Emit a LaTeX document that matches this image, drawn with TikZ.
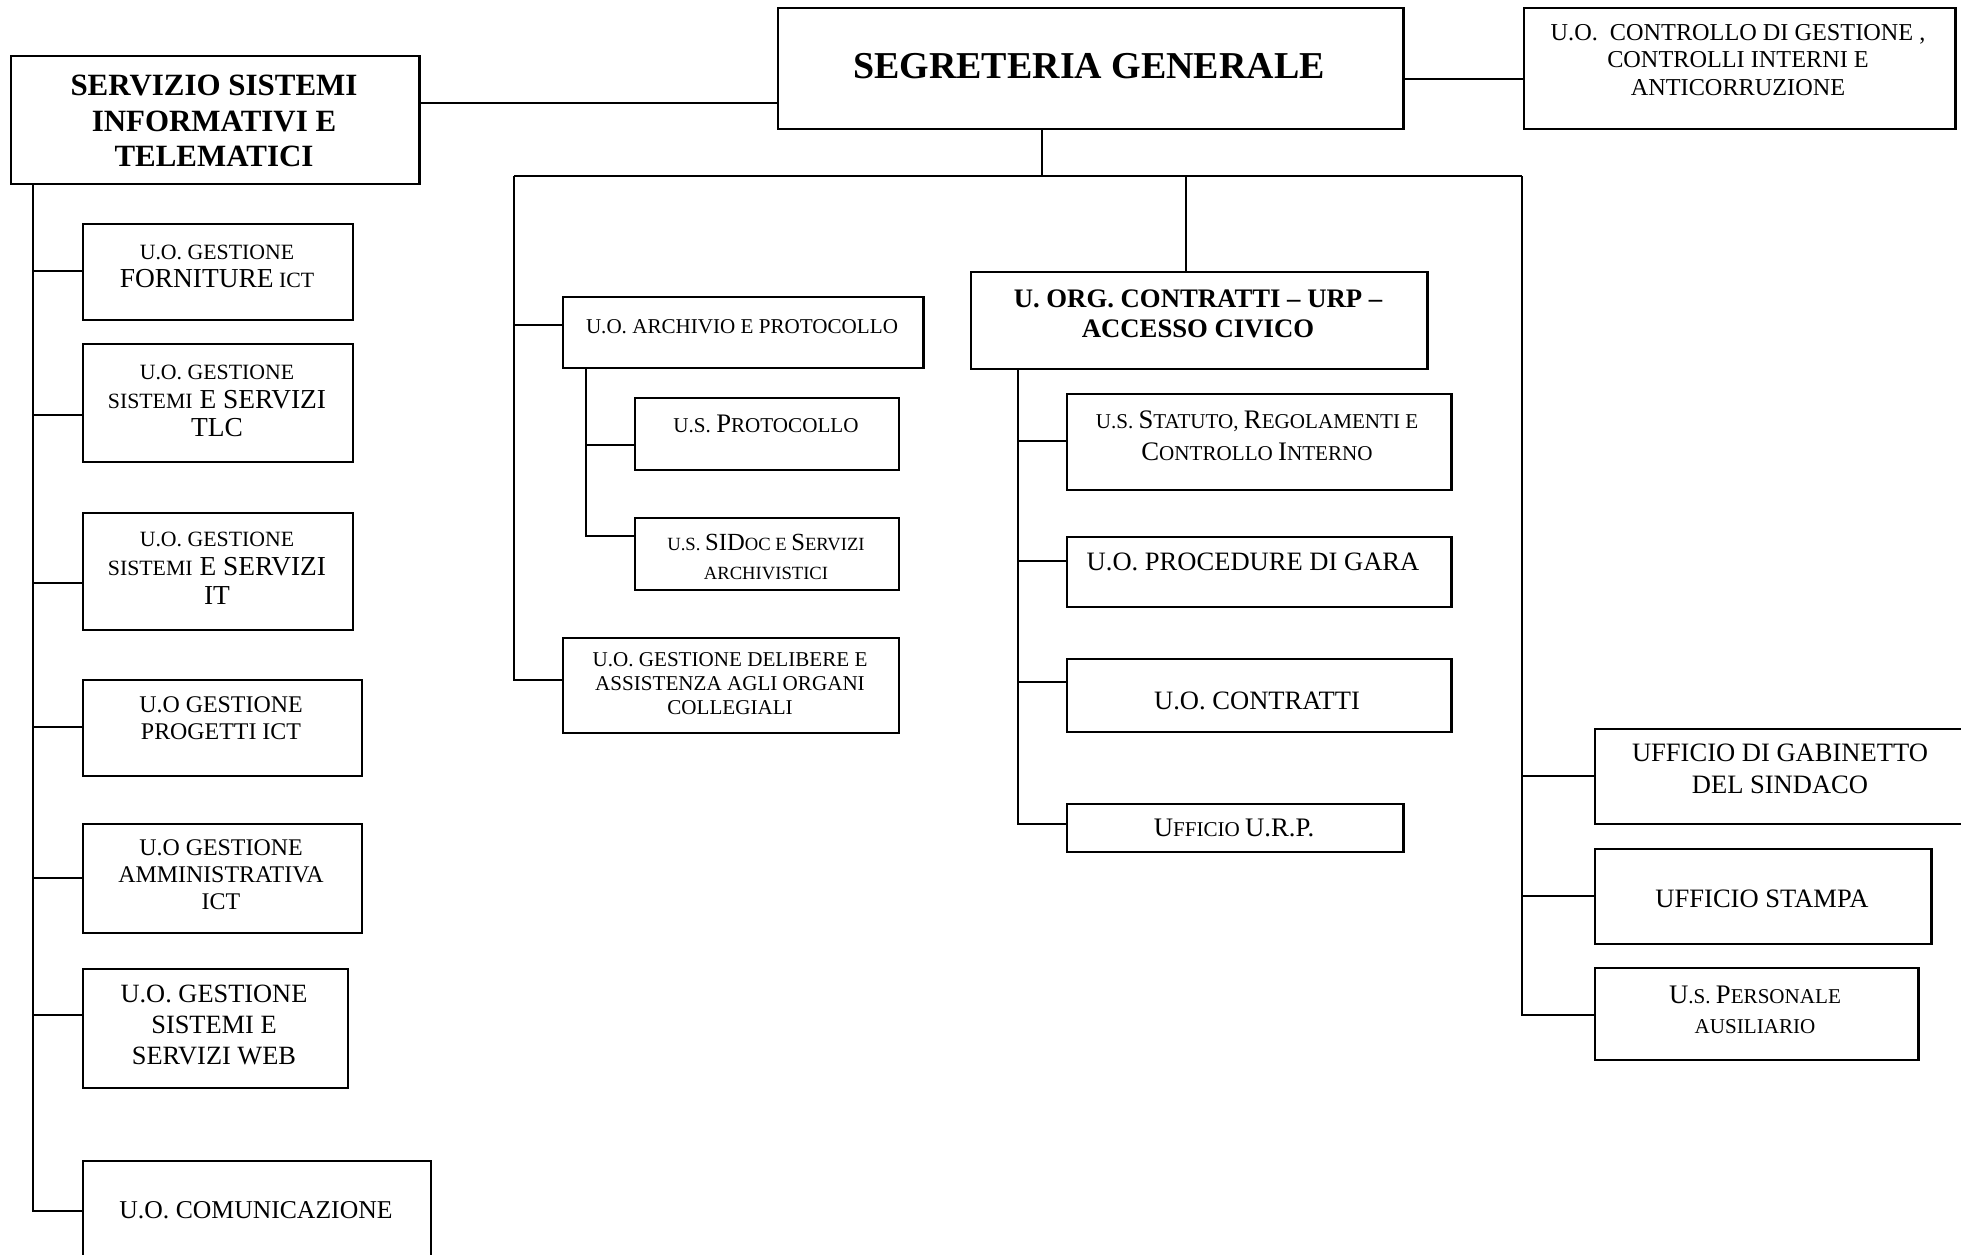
\documentclass[tikz,border=0pt]{standalone}
\usepackage{fontspec}
\setmainfont{Liberation Serif}
\newcommand\myfs[2]{\fontsize{#1pt}{#2pt}\selectfont}
\begin{document}
\begin{tikzpicture}[x=0.01cm,y=-0.01cm,
  box/.style={draw, line width=0.65pt, inner sep=0pt, anchor=north west},
  ln/.style={line width=0.65pt},
  lbl/.style={align=center, inner sep=0pt}]
\useasboundingbox (0,0) rectangle (1961,1254);
\fill[white] (0,0) rectangle (1961,1254);
\clip (0,0) rectangle (1961,1254);

% ---------- boxes ----------
\node[box, minimum width=4.08cm, minimum height=1.28cm] (ssi) at (10,55) {};
\node[box, minimum width=6.25cm, minimum height=1.21cm] (sg) at (777,7) {};
\node[box, minimum width=4.31cm, minimum height=1.21cm] (cdg) at (1523,7) {};

\node[box, minimum width=2.70cm, minimum height=0.96cm] (forn) at (82,223) {};
\node[box, minimum width=2.70cm, minimum height=1.18cm] (tlc) at (82,343) {};
\node[box, minimum width=2.70cm, minimum height=1.17cm] (it) at (82,512) {};
\node[box, minimum width=2.79cm, minimum height=0.96cm] (prog) at (82,679) {};
\node[box, minimum width=2.79cm, minimum height=1.09cm] (amm) at (82,823) {};
\node[box, minimum width=2.65cm, minimum height=1.19cm] (web) at (82,968) {};
\node[box, minimum width=3.48cm, minimum height=1.00cm] (com) at (82,1160) {};

\node[box, minimum width=3.60cm, minimum height=0.71cm] (arch) at (562,296) {};
\node[box, minimum width=2.64cm, minimum height=0.72cm] (prot) at (634,397) {};
\node[box, minimum width=2.64cm, minimum height=0.72cm] (sidoc) at (634,517) {};
\node[box, minimum width=3.36cm, minimum height=0.95cm] (delib) at (562,637) {};

\node[box, minimum width=4.56cm, minimum height=0.97cm] (org) at (970,271) {};
\node[box, minimum width=3.84cm, minimum height=0.96cm] (stat) at (1066,393) {};
\node[box, minimum width=3.84cm, minimum height=0.70cm] (proc) at (1066,536) {};
\node[box, minimum width=3.84cm, minimum height=0.73cm] (contr) at (1066,658) {};
\node[box, minimum width=3.36cm, minimum height=0.48cm] (urp) at (1066,803) {};

\node[box, minimum width=4.00cm, minimum height=0.95cm] (gab) at (1594,728) {};
\node[box, minimum width=3.36cm, minimum height=0.95cm] (stampa) at (1594,848) {};
\node[box, minimum width=3.23cm, minimum height=0.92cm] (pers) at (1594,967) {};

% ---------- texts ----------
\node[lbl, font=\bfseries\myfs{8.8}{10.2}] (ssi-t) at (214,121) {SERVIZIO SISTEMI\\INFORMATIVI E\\TELEMATICI};
\node[lbl, font=\bfseries\myfs{10.8}{12}] (sg-t) at (1089,66) {SEGRETERIA GENERALE};
\node[lbl, font=\myfs{6.9}{7.8}] (cdg-t) at (1738,60) {U.O.\ \ CONTROLLO DI GESTIONE ,\\CONTROLLI INTERNI E\\ANTICORRUZIONE};

\node[lbl, font=\myfs{6.2}{8}] (forn-t) at (217,266) {U.O. GESTIONE\\{\myfs{7.8}{8}FORNITURE} ICT};
\node[lbl, font=\myfs{6.2}{8.2}] (tlc-t) at (217,401) {U.O. GESTIONE\\SISTEMI{\myfs{7.8}{8.2} E SERVIZI}\\{\myfs{7.8}{8.2}TLC}};
\node[lbl, font=\myfs{6.2}{8.2}] (it-t) at (217,568) {U.O. GESTIONE\\SISTEMI{\myfs{7.8}{8.2} E SERVIZI}\\{\myfs{7.8}{8.2}IT}};
\node[lbl, font=\myfs{6.8}{7.8}] (prog-t) at (221,718) {U.O GESTIONE\\PROGETTI ICT};
\node[lbl, font=\myfs{6.8}{7.7}] (amm-t) at (221,875) {U.O GESTIONE\\AMMINISTRATIVA\\ICT};
\node[lbl, font=\myfs{7.5}{8.9}] (web-t) at (214,1025) {U.O. GESTIONE\\SISTEMI E\\SERVIZI WEB};
\node[lbl, font=\myfs{7.3}{8}] (com-t) at (256,1210) {U.O. COMUNICAZIONE};

\node[lbl, font=\myfs{6.0}{7}] (arch-t) at (742,327) {U.O. ARCHIVIO E PROTOCOLLO};
\node[lbl, font=\myfs{6.0}{8}] (prot-t) at (766,424) {U.S. {\myfs{7.6}{8}P}ROTOCOLLO};
\node[lbl, font=\myfs{5.3}{8}] (sidoc-t) at (766,557) {U.S. {\myfs{7}{8}SID}OC E {\myfs{7}{8}S}ERVIZI\\ARCHIVISTICI};
\node[lbl, font=\myfs{6.0}{6.8}] (delib-t) at (730,684) {U.O. GESTIONE DELIBERE E\\ASSISTENZA AGLI ORGANI\\COLLEGIALI};

\node[lbl, font=\bfseries\myfs{7.6}{8.6}] (org-t) at (1198,314) {U. ORG. CONTRATTI -- URP --\\ACCESSO CIVICO};
\node[lbl, font=\myfs{6.0}{9.1}] (stat-t) at (1257,436) {U.S. {\myfs{7.6}{9.1}S}TATUTO, {\myfs{7.6}{9.1}R}EGOLAMENTI E\\{\myfs{7.6}{9.1}C}ONTROLLO {\myfs{7.6}{9.1}I}NTERNO};
\node[lbl, font=\myfs{7.55}{9}] (proc-t) at (1253,562) {U.O. PROCEDURE DI GARA};
\node[lbl, font=\myfs{7.55}{9}] (contr-t) at (1257,701) {U.O. CONTRATTI};
\node[lbl, font=\myfs{6.0}{9}] (urp-t) at (1234,828) {{\myfs{7.6}{9}U}FFICIO {\myfs{7.6}{9}U.R.P.}};

\node[lbl, font=\myfs{7.55}{9.1}] (gab-t) at (1780,769) {UFFICIO DI GABINETTO\\DEL SINDACO};
\node[lbl, font=\myfs{7.55}{9}] (stampa-t) at (1762,899) {UFFICIO STAMPA};
\node[lbl, font=\myfs{6.0}{8.5}] (pers-t) at (1755,1010) {{\myfs{7.6}{8.5}U}.S. {\myfs{7.6}{8.5}P}ERSONALE\\AUSILIARIO};

% ---------- helper coordinates ----------
\coordinate (ya) at (0,103);
\coordinate (yb) at (0,79);
\coordinate (bus) at (0,176);
\coordinate (sgx) at (1042,0);
\coordinate (orgx) at (1186,0);
\coordinate (lt) at (33,0);
\coordinate (mt) at (514,0);
\coordinate (at) at (586,0);
\coordinate (ot) at (1018,0);
\coordinate (rt) at (1522,0);

% ---------- connectors ----------
\draw[ln] (ssi.east |- ya) -- (sg.west |- ya);
\draw[ln] (sg.east |- yb) -- (cdg.west |- yb);
\draw[ln] (sg.south -| sgx) -- (sgx |- bus);
\draw[ln] (mt |- bus) -- (rt |- bus);
\draw[ln] (orgx |- bus) -- (org.north -| orgx);

% left column
\draw[ln] (ssi.south -| lt) -- (lt |- com.west) -- (com.west);
\draw[ln] (lt |- 0,271) -- (forn.west |- 0,271);
\draw[ln] (lt |- 0,415) -- (tlc.west |- 0,415);
\draw[ln] (lt |- 0,583) -- (it.west |- 0,583);
\draw[ln] (lt |- 0,727) -- (prog.west |- 0,727);
\draw[ln] (lt |- 0,878) -- (amm.west |- 0,878);
\draw[ln] (lt |- 0,1015) -- (web.west |- 0,1015);

% middle column
\draw[ln] (mt |- bus) -- (mt |- 0,680) -- (delib.west |- 0,680);
\draw[ln] (mt |- 0,325) -- (arch.west |- 0,325);
\draw[ln] (arch.south -| at) -- (at |- 0,536) -- (sidoc.west |- 0,536);
\draw[ln] (at |- 0,445) -- (prot.west |- 0,445);

% org subtree
\draw[ln] (org.south -| ot) -- (ot |- 0,824) -- (urp.west |- 0,824);
\draw[ln] (ot |- 0,441) -- (stat.west |- 0,441);
\draw[ln] (ot |- 0,561) -- (proc.west |- 0,561);
\draw[ln] (ot |- 0,682) -- (contr.west |- 0,682);

% right column
\draw[ln] (rt |- bus) -- (rt |- 0,1015) -- (pers.west |- 0,1015);
\draw[ln] (rt |- 0,776) -- (gab.west |- 0,776);
\draw[ln] (rt |- 0,896) -- (stampa.west |- 0,896);
\end{tikzpicture}
\end{document}
